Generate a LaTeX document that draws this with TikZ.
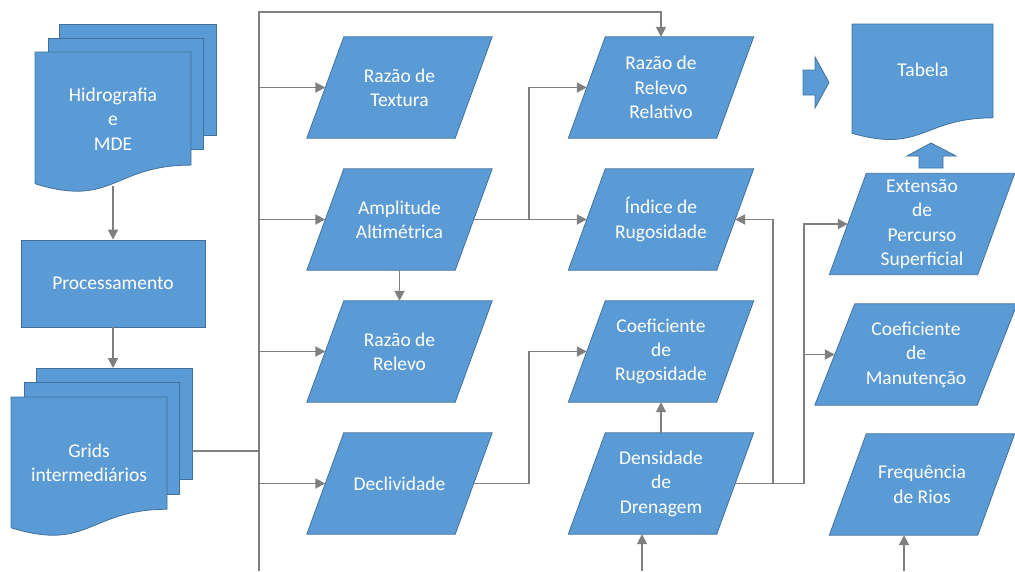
\documentclass[tikz,border=0pt]{standalone}
\usepackage{fontspec}
\setmainfont{Carlito}
\usetikzlibrary{arrows.meta,backgrounds}
\definecolor{boxblue}{HTML}{5B9BD5}
\definecolor{boxedge}{HTML}{41719C}
\definecolor{linegray}{HTML}{7F7F7F}
\newcommand{\paraframe}[2]{\filldraw[shapestyle] ([xshift=-#2]#1.south west) -- ([xshift=-#2]#1.south east) -- ([xshift=#2]#1.north east) -- ([xshift=#2]#1.north west) -- cycle;}
\newcommand{\docframe}[4]{%
  \pgfmathsetmacro{\dxr}{#1+#3}\pgfmathsetmacro{\dxm}{#1+#3/2}%
  \pgfmathsetmacro{\dyr}{#2+0.802*#4}\pgfmathsetmacro{\dyc}{#2+1.1075*#4}\pgfmathsetmacro{\dyl}{#2+0.934*#4}%
  \filldraw[shapestyle] (#1,#2) -- (\dxr,#2) -- (\dxr,\dyr) .. controls (\dxm,\dyr) and (\dxm,\dyc) .. (#1,\dyl) -- cycle;}
\begin{document}
\begin{tikzpicture}[x=1pt,y=-1pt,
  shapestyle/.style={fill=boxblue,draw=boxedge,line width=0.8pt},
  boxtext/.style={text=white,font=\fontsize{19.5}{24.4}\selectfont,align=center,inner sep=0pt},
  parabox/.style={boxtext,minimum width=148pt,minimum height=101pt},
  conn/.style={draw=linegray,line width=1.8pt},
  arr/.style={conn,-{Triangle[length=10pt,width=10pt]}}]
\useasboundingbox (0,0) rectangle (1015,571);
% text nodes
\node[boxtext] (hid) at (113,119) {Hidrografia\\e\\MDE};
\node[boxtext,shapestyle,minimum width=184pt,minimum height=87pt] (proc) at (113,283.5) {Processamento};
\node[boxtext] (grids) at (89,463) {Grids\\intermediários};
\node[boxtext] (tab) at (923,70) {Tabela};
\node[parabox] (tex) at (399.5,87.5) {Razão de\\Textura};
\node[parabox] (amp) at (399.5,219.5) {Amplitude\\Altimétrica};
\node[parabox] (rel) at (399.5,351.5) {Razão de\\Relevo};
\node[parabox] (decl) at (399.5,483.5) {Declividade};
\node[parabox] (rrr) at (661,87.5) {Razão de\\Relevo\\Relativo};
\node[parabox] (ind) at (661,219.5) {Índice de\\Rugosidade};
\node[parabox] (cor) at (661,351.5) {Coeficiente\\de\\Rugosidade};
\node[parabox] (dens) at (661,483.5) {Densidade\\de\\Drenagem};
\node[parabox] (ext) at (922,224) {Extensão\\de\\Percurso\\Superficial};
\node[parabox,minimum width=162pt] (man) at (916,354.5) {Coeficiente\\de\\Manutenção};
\node[parabox] (freq) at (922,484.5) {Frequência\\de Rios};
% coordinates
\coordinate (hidb) at (113,186);
\coordinate (gridt) at (114,368);
\coordinate (gridr) at (192,451);
\coordinate (ttop) at (259,12);
\coordinate (tbot) at (259,571);
\coordinate (ja) at (529,219.5);
\coordinate (jd) at (529,483.5);
\coordinate (jr) at (773,483.5);
\coordinate (je) at (804,483.5);
\coordinate (dbot) at (642,571);
\coordinate (fbot) at (904,571);
% connectors
\draw[arr] (hidb) -- (proc);
\draw[arr] (proc) -- (proc |- gridt);
\draw[conn] (gridr) -- (gridr -| ttop);
\draw[arr] (tbot) -- (ttop) -- (ttop -| rrr) -- (rrr);
\draw[arr] (ttop |- tex) -- (tex);
\draw[arr] (ttop |- amp) -- (amp);
\draw[arr] (ttop |- rel) -- (rel);
\draw[arr] (ttop |- decl) -- (decl);
\draw[arr] (amp) -- (ind);
\draw[arr] (ja) |- (rrr);
\draw[arr] (amp) -- (rel);
\draw[arr] (decl) -- (jd) |- (cor);
\draw[arr] (dens) -- (cor);
\draw[arr] (dbot) -- (dbot |- dens.south);
\draw[arr] (dens) -- (jr) |- (ind);
\draw[conn] (jr) -- (je);
\draw[arr] (je) |- (ext);
\draw[arr] (je |- man) -- (man);
\draw[arr] (fbot) -- (fbot |- freq.south);
% shapes
\begin{pgfonlayer}{background}
\filldraw[shapestyle] (59,24) rectangle (216,135);
\filldraw[shapestyle] (48,38) rectangle (203,149);
\docframe{35}{52}{156}{141}
\filldraw[shapestyle] (36,368) rectangle (192,479);
\filldraw[shapestyle] (24,382) rectangle (179,494);
\docframe{11}{397}{156}{140}
\docframe{852}{24}{141}{117}
\paraframe{tex}{18.5pt}
\paraframe{amp}{18.5pt}
\paraframe{rel}{18.5pt}
\paraframe{decl}{18.5pt}
\paraframe{rrr}{18.5pt}
\paraframe{ind}{18.5pt}
\paraframe{cor}{18.5pt}
\paraframe{dens}{18.5pt}
\paraframe{ext}{18.5pt}
\paraframe{man}{20pt}
\paraframe{freq}{18.5pt}
\filldraw[shapestyle] (803,70) -- (815,70) -- (815,57) -- (829,82.5) -- (815,108) -- (815,95) -- (803,95) -- cycle;
\filldraw[shapestyle] (919,168) -- (919,156) -- (907,156) -- (931,143) -- (956,156) -- (943,156) -- (943,168) -- cycle;
\end{pgfonlayer}
\end{tikzpicture}
\end{document}
